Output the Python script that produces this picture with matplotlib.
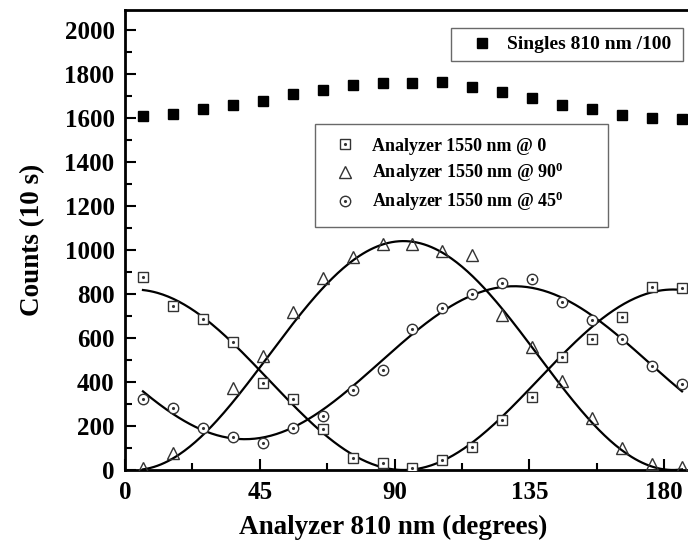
import numpy as np
import matplotlib
matplotlib.use("Agg")
import matplotlib.pyplot as plt
from matplotlib.ticker import MultipleLocator

plt.rcParams.update({
    "font.family": "Liberation Serif",
    "font.weight": "bold",
    "axes.labelweight": "bold",
    "mathtext.fontset": "custom",
    "mathtext.rm": "Liberation Serif:bold",
    "mathtext.bf": "Liberation Serif:bold",
    "mathtext.default": "bf",
})

# angolo analizzatore 810 nm (gradi)
angles = [6, 16, 26, 36, 46, 56, 66, 76, 86, 96, 106, 116, 126, 136, 146, 156, 166, 176, 186]

singles = [1610, 1618, 1638, 1658, 1678, 1708, 1728, 1748, 1760, 1760, 1762, 1738, 1718, 1688,
           1658, 1638, 1612, 1600, 1597]
counts_0 = [876, 745, 685, 583, 397, 321, 186, 56, 30, 10, 45, 103, 227, 333, 512, 595, 694, 833, 829]
# triangolo a 26 gradi non visibile
angles_90 = [6, 16, 36, 46, 56, 66, 76, 86, 96, 106, 116, 126, 136, 146, 156, 166, 176, 186]
counts_90 = [8, 79, 371, 518, 720, 871, 967, 1026, 1026, 995, 977, 705, 561, 405, 238, 98, 26, 15]
counts_45 = [321, 280, 192, 148, 124, 192, 245, 364, 455, 642, 738, 798, 848, 868, 762, 682, 594, 474, 390]

# parametri dei fit (legge di Malus): offset, ampiezza, angolo del minimo
fit_0 = (0, 820, 93)
fit_90 = (0, 1040, 3)
fit_45 = (140, 695, 40)


def malus(x, p):
    off, amp, xmin = p
    return off + amp * np.sin(np.radians(x - xmin)) ** 2


fig = plt.figure(figsize=(6.88, 5.54), dpi=100)
ax = fig.add_axes([125 / 688, 84 / 554, 1 - 125 / 688, 460 / 554])

xf = np.linspace(angles[0], angles[-1], 300)
for p in [fit_0, fit_90, fit_45]:
    ax.plot(xf, malus(xf, p), color='black', lw=1.6, zorder=2)

h_s, = ax.plot(angles, singles, 's', color='black', ms=7.5, ls='none', zorder=3)
h0, = ax.plot(angles, counts_0, 's', mfc='white', mec='#333333', mew=1.0, ms=7, ls='none', zorder=3)
d0, = ax.plot(angles, counts_0, '.', color='#333333', ms=2.5, ls='none', zorder=4)
h90, = ax.plot(angles_90, counts_90, '^', mfc='none', mec='#333333', mew=1.0, ms=9, ls='none', zorder=3)
h45, = ax.plot(angles, counts_45, 'o', mfc='white', mec='#333333', mew=1.0, ms=7.5, ls='none', zorder=3)
d45, = ax.plot(angles, counts_45, '.', color='#333333', ms=2.5, ls='none', zorder=4)

ax.set_xlim(0, 188)
ax.set_ylim(0, 2090)
ax.xaxis.set_major_locator(MultipleLocator(45))
ax.xaxis.set_minor_locator(MultipleLocator(22.5))
ax.yaxis.set_major_locator(MultipleLocator(200))
ax.yaxis.set_minor_locator(MultipleLocator(100))
ax.tick_params(which='both', direction='in', top=False, right=False, width=1.5, labelsize=18)
ax.tick_params(which='major', length=8)
ax.tick_params(which='minor', length=5)
ax.tick_params(axis='y', pad=7.5)
ax.tick_params(axis='x', pad=8)
for s in ['left', 'bottom', 'top']:
    ax.spines[s].set_linewidth(2)
ax.spines['right'].set_visible(False)

ax.set_xlabel('Analyzer 810 nm (degrees)', fontsize=19.5)
ax.xaxis.set_label_coords((393 - 125) / 563, -0.098)
ax.set_ylabel('Counts (10 s)', fontsize=19.5, labelpad=14)

leg1 = fig.legend([h_s], ['Singles 810 nm /100'], loc='upper left',
                  bbox_to_anchor=(451 / 688, 1 - 63 / 554, 232 / 688, 35 / 554), mode='expand',
                  fontsize=14, frameon=True, fancybox=False, edgecolor='#444444',
                  handlelength=2.4, borderpad=0.4, handletextpad=0.1, borderaxespad=0)
leg1.get_frame().set_linewidth(1.0)

leg2 = fig.legend([(h0, d0), h90, (h45, d45)],
                  ['Analyzer 1550 nm @ 0', 'Analyzer 1550 nm @ 90$^0$', 'Analyzer 1550 nm @ 45$^0$'],
                  loc='upper left', bbox_to_anchor=(315 / 688, 1 - 216 / 554, 293 / 688, 92 / 554),
                  mode='expand', fontsize=13, frameon=True, fancybox=False, edgecolor='#444444',
                  handlelength=1.8, borderpad=0.75, labelspacing=0.33, handletextpad=0.6,
                  borderaxespad=0)
leg2.get_frame().set_linewidth(1.0)

fig.savefig('out.png', dpi=100)
